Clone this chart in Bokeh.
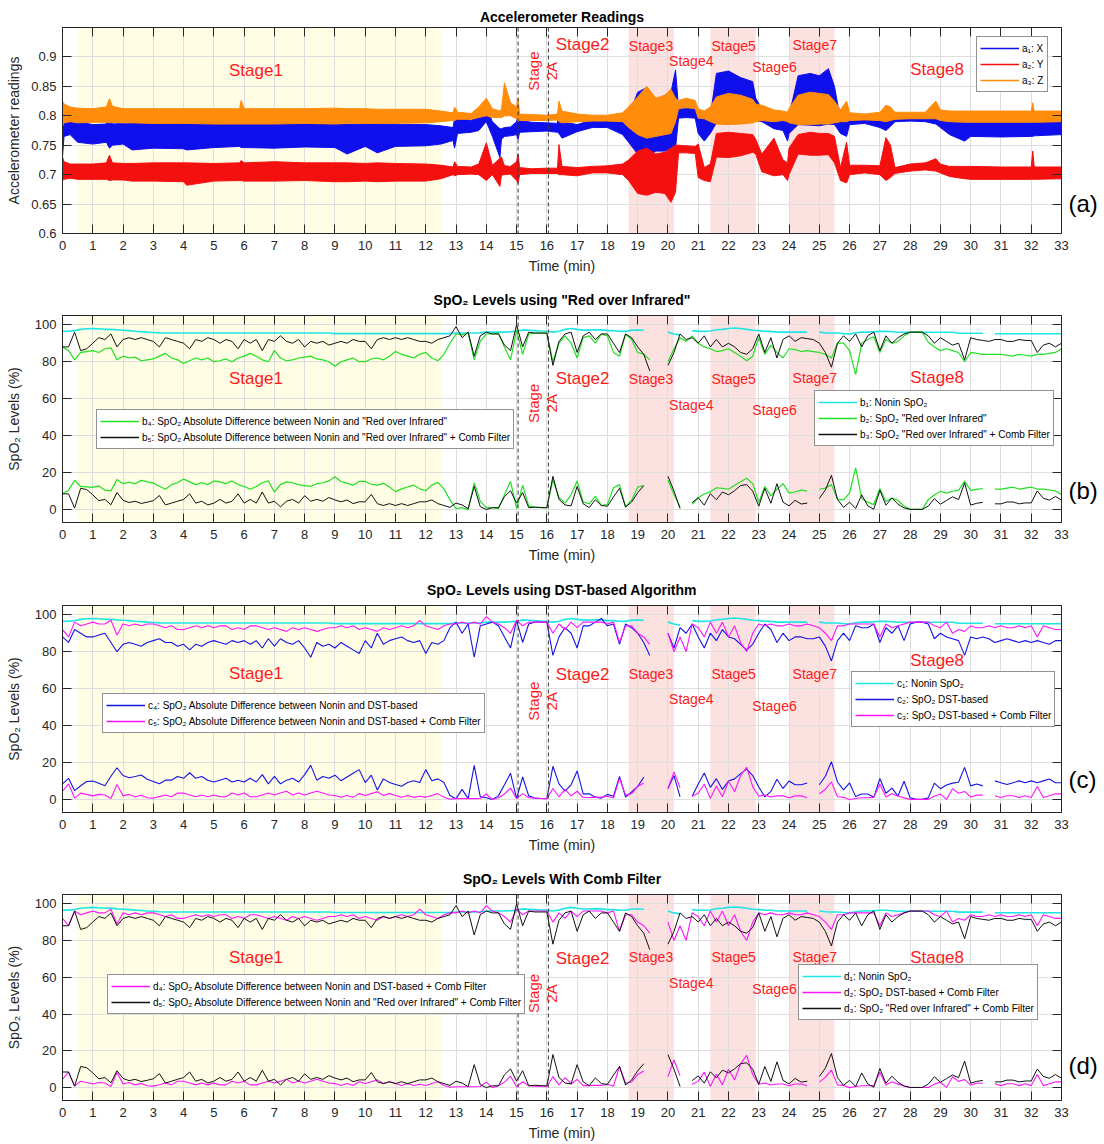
import numpy as np
from bokeh.plotting import figure
from bokeh.layouts import column
from bokeh.models import (BoxAnnotation, Span, Label, Legend, LegendItem,
                          FixedTicker, LinearAxis, Range1d)
from bokeh.embed import file_html
from bokeh.resources import INLINE

NAN = float("nan")

# ---------------- accelerometer: envelope (low / high) of each axis ----------------
acc_t = [0.0, 0.05, 0.25, 0.5, 1.0, 1.45, 1.55, 1.65, 2.0, 2.3,
         3.0, 4.0, 4.1, 5.0, 5.85, 5.9, 6.0, 7.0, 8.0, 9.0,
         9.4, 10.0, 10.4, 11.0, 12.0, 12.5, 12.9, 12.95, 13.05, 13.5,
         13.75, 14.0, 14.2, 14.45, 14.5, 14.6, 14.8, 15.0, 15.05, 15.1,
         15.5, 16.0, 16.35, 16.4, 16.5, 17.0, 17.5, 18.0, 18.5, 18.7,
         19.0, 19.3, 19.6, 19.9, 20.1, 20.25, 20.35, 20.6, 20.9, 21.0,
         21.2, 21.4, 21.6, 22.0, 22.4, 22.8, 22.9, 23.1, 23.5, 23.8,
         23.95, 24.0, 24.3, 24.7, 25.0, 25.3, 25.5, 25.7, 25.9, 26.0,
         26.5, 27.0, 27.2, 27.35, 27.5, 28.0, 28.5, 28.85, 29.0, 29.3,
         29.8, 30.0, 31.0, 32.0, 32.05, 32.1, 33.0]

acc_x_lo = [0.730, 0.765, 0.768, 0.755, 0.752, 0.755, 0.745, 0.750, 0.752, 0.742,
            0.745, 0.744, 0.742, 0.746, 0.748, 0.746, 0.746, 0.745, 0.747, 0.746,
            0.735, 0.748, 0.737, 0.748, 0.749, 0.752, 0.758, 0.745, 0.770, 0.772,
            0.775, 0.790, 0.765, 0.729, 0.760, 0.765, 0.766, 0.768, 0.760, 0.772,
            0.773, 0.774, 0.772, 0.770, 0.762, 0.773, 0.780, 0.780, 0.768, 0.755,
            0.735, 0.730, 0.740, 0.740, 0.745, 0.745, 0.796, 0.797, 0.796, 0.770,
            0.757, 0.770, 0.788, 0.786, 0.787, 0.790, 0.792, 0.790, 0.778, 0.775,
            0.757, 0.770, 0.785, 0.784, 0.783, 0.786, 0.785, 0.770, 0.765, 0.785,
            0.787, 0.780, 0.775, 0.782, 0.790, 0.791, 0.790, 0.786, 0.780, 0.768,
            0.757, 0.765, 0.764, 0.765, 0.765, 0.766, 0.768]
acc_x_hi = [0.795, 0.797, 0.795, 0.790, 0.785, 0.786, 0.800, 0.786, 0.787, 0.788,
            0.788, 0.787, 0.786, 0.787, 0.786, 0.797, 0.787, 0.787, 0.786, 0.786,
            0.785, 0.786, 0.786, 0.785, 0.785, 0.783, 0.780, 0.795, 0.797, 0.792,
            0.800, 0.815, 0.790, 0.778, 0.778, 0.780, 0.781, 0.790, 0.802, 0.792,
            0.789, 0.788, 0.787, 0.815, 0.790, 0.785, 0.793, 0.794, 0.790, 0.800,
            0.840, 0.848, 0.825, 0.835, 0.840, 0.878, 0.814, 0.812, 0.813, 0.805,
            0.795, 0.800, 0.872, 0.876, 0.865, 0.858, 0.830, 0.812, 0.800, 0.795,
            0.790, 0.800, 0.868, 0.872, 0.868, 0.880, 0.850, 0.792, 0.800, 0.797,
            0.796, 0.800, 0.808, 0.802, 0.800, 0.800, 0.799, 0.805, 0.796, 0.792,
            0.790, 0.790, 0.789, 0.790, 0.797, 0.789, 0.790]
acc_y_lo = [0.690, 0.692, 0.694, 0.692, 0.692, 0.692, 0.690, 0.691, 0.691, 0.689,
            0.689, 0.688, 0.682, 0.689, 0.690, 0.690, 0.689, 0.689, 0.690, 0.688,
            0.688, 0.689, 0.688, 0.689, 0.689, 0.693, 0.700, 0.698, 0.700, 0.701,
            0.700, 0.690, 0.700, 0.680, 0.699, 0.700, 0.701, 0.690, 0.685, 0.700,
            0.702, 0.702, 0.702, 0.700, 0.700, 0.698, 0.703, 0.703, 0.700, 0.690,
            0.668, 0.665, 0.670, 0.668, 0.653, 0.670, 0.737, 0.737, 0.736, 0.695,
            0.690, 0.688, 0.730, 0.729, 0.732, 0.738, 0.735, 0.705, 0.698, 0.700,
            0.690, 0.700, 0.735, 0.733, 0.733, 0.734, 0.720, 0.690, 0.686, 0.700,
            0.703, 0.700, 0.690, 0.695, 0.702, 0.706, 0.708, 0.706, 0.703, 0.697,
            0.693, 0.692, 0.692, 0.692, 0.692, 0.692, 0.693]
acc_y_hi = [0.730, 0.722, 0.718, 0.718, 0.718, 0.720, 0.733, 0.720, 0.719, 0.719,
            0.720, 0.720, 0.720, 0.719, 0.720, 0.724, 0.720, 0.722, 0.720, 0.720,
            0.720, 0.719, 0.720, 0.719, 0.718, 0.716, 0.713, 0.722, 0.714, 0.713,
            0.718, 0.754, 0.716, 0.728, 0.730, 0.715, 0.714, 0.722, 0.735, 0.712,
            0.710, 0.711, 0.711, 0.751, 0.714, 0.712, 0.714, 0.715, 0.718, 0.725,
            0.740, 0.745, 0.735, 0.738, 0.745, 0.750, 0.750, 0.749, 0.748, 0.752,
            0.712, 0.718, 0.770, 0.772, 0.770, 0.768, 0.760, 0.735, 0.762, 0.725,
            0.720, 0.745, 0.768, 0.772, 0.770, 0.770, 0.765, 0.712, 0.755, 0.716,
            0.716, 0.715, 0.763, 0.750, 0.712, 0.718, 0.720, 0.727, 0.718, 0.714,
            0.714, 0.714, 0.713, 0.713, 0.740, 0.713, 0.713]
acc_z_lo = [0.782, 0.788, 0.790, 0.788, 0.789, 0.789, 0.788, 0.789, 0.788, 0.788,
            0.787, 0.787, 0.787, 0.786, 0.786, 0.786, 0.786, 0.786, 0.787, 0.786,
            0.787, 0.787, 0.787, 0.787, 0.788, 0.790, 0.792, 0.792, 0.794, 0.794,
            0.797, 0.800, 0.797, 0.797, 0.797, 0.800, 0.800, 0.795, 0.790, 0.792,
            0.792, 0.792, 0.793, 0.790, 0.788, 0.790, 0.791, 0.791, 0.790, 0.780,
            0.768, 0.762, 0.765, 0.768, 0.770, 0.790, 0.812, 0.814, 0.812, 0.796,
            0.795, 0.790, 0.786, 0.785, 0.786, 0.788, 0.790, 0.792, 0.790, 0.792,
            0.790, 0.788, 0.785, 0.785, 0.786, 0.786, 0.788, 0.790, 0.790, 0.792,
            0.793, 0.792, 0.790, 0.792, 0.794, 0.795, 0.795, 0.795, 0.792, 0.790,
            0.789, 0.789, 0.789, 0.789, 0.789, 0.789, 0.790]
acc_z_hi = [0.825, 0.820, 0.815, 0.813, 0.812, 0.815, 0.829, 0.816, 0.812, 0.812,
            0.812, 0.812, 0.812, 0.812, 0.812, 0.826, 0.812, 0.812, 0.812, 0.813,
            0.812, 0.812, 0.811, 0.811, 0.811, 0.808, 0.805, 0.815, 0.806, 0.804,
            0.815, 0.830, 0.812, 0.808, 0.812, 0.856, 0.822, 0.815, 0.830, 0.803,
            0.802, 0.801, 0.803, 0.825, 0.808, 0.803, 0.801, 0.801, 0.805, 0.815,
            0.832, 0.850, 0.830, 0.835, 0.845, 0.830, 0.826, 0.830, 0.826, 0.812,
            0.808, 0.815, 0.832, 0.838, 0.835, 0.828, 0.820, 0.818, 0.810, 0.808,
            0.806, 0.812, 0.835, 0.840, 0.838, 0.836, 0.825, 0.810, 0.825, 0.805,
            0.803, 0.806, 0.818, 0.815, 0.806, 0.806, 0.806, 0.825, 0.810, 0.808,
            0.808, 0.808, 0.808, 0.808, 0.822, 0.808, 0.808]

# ---------------- SpO2 estimates, one value every 0.2 min (0 ... 33 min) ----------------
spo2_t = [round(0.2 * i, 1) for i in range(166)]

nonin = [96.5, 96.5, 96.8, 97.5, 97.8, 98.0, 97.8, 97.5, 97.6, 97.2,
         97.0, 96.8, 96.5, 96.3, 96.0, 95.8, 95.6, 95.5, 95.5, 95.5,
         95.5, 95.5, 95.5, 95.5, 95.5, 95.5, 95.5, 95.5, 95.5, 95.5,
         95.5, 95.5, 95.5, 95.5, 95.5, 95.5, 95.5, 95.5, 95.5, 95.5,
         95.5, 95.5, 95.5, 95.5, 95.5, 95.2, 95.2, 95.2, 95.2, 95.2,
         95.2, 95.2, 95.2, 95.2, 95.2, 95.2, 95.2, 95.2, 95.2, 95.2,
         95.2, 95.2, 95.2, 95.2, 95.2, 95.5, 95.5, 95.5, 95.5, 95.6,
         96.0, 96.0, 96.0, 96.0, 96.2, 96.5, 97.2, 97.0, 96.8, 96.6,
         96.5, 96.0, 96.5, 97.5, 98.0, 97.5, 97.1, 97.1, 97.3, 97.2,
         96.8, 96.8, 96.5, 96.4, 97.1, 97.1, 97.0, NAN, NAN, NAN,
         96.0, 95.0, 94.4, NAN, 96.8, 96.4, 96.4, 96.6, 97.3, 97.5,
         98.0, 98.2, 98.0, 97.5, 97.0, 96.8, 96.5, 96.4, 96.0, 96.0,
         96.0, 96.0, 96.0, 96.0, NAN, 96.0, 95.6, 95.5, 95.5, 95.2,
         95.0, 95.6, 96.0, 96.0, 96.2, 96.4, 96.4, 96.2, 95.9, 95.9,
         95.9, 95.9, 95.9, 95.9, 95.9, 95.9, 95.9, 95.9, 95.4, 95.4,
         95.4, 95.4, 95.4, NAN, 95.1, 95.1, 95.1, 95.1, 95.1, 95.1,
         95.1, 95.1, 95.1, 95.1, 95.1, 95.1]

roi = [88, 86, 81, 85, 85.5, 86, 85, 87, 87.5, 81,
       83, 82, 82.5, 80.5, 81, 81.5, 83, 84.5, 82, 81,
       79, 80.5, 82, 81, 82, 80, 80.5, 81.5, 80, 82,
       83, 84.5, 83, 81, 80, 86, 82, 80.5, 81, 82,
       82.5, 83, 81.5, 81, 80, 77.5, 80, 81, 82, 80,
       80, 81.5, 82, 81, 83, 85.5, 84, 83, 82, 84,
       85, 82, 80.5, 84, 90, 95, 94.5, 95.5, 81, 91,
       95, 95, 95.5, 88, 81, 97, 84, 95, 95.5, 95.5,
       95.5, 80, 90, 94, 90, 82, 93, 94, 90, 95,
       94, 85, 83, 95, 92, 85, 84, 81, NAN, NAN,
       80, 87, 93, 91, 94, 90, 88, 87, 85.5, 86,
       87, 85, 83, 80.5, 83, 93, 84, 89, 85, 82,
       87, 86.5, 85.5, 86, 85.5, 85, 84, 82, 90, 90,
       86, 73, 90, 92, 93.5, 85, 92, 90, 91, 94,
       96, 96, 96, 90.5, 88, 86, 87, 86, 85, 80,
       85, 84.5, 84, 84, 84, 84, 83.5, 83, 84, 83.5,
       83, 84, 84, 84.5, 85, 87]

roi_comb = [88, 88, 96, 86, 87, 90, 93, 92, 95, 88,
            92, 93, 92, 93, 92, 91, 88, 93, 92, 91,
            90, 87, 92, 91, 93, 92, 90, 92, 91, 87,
            92, 90, 92, 86, 92, 91, 94, 91, 90, 92,
            88, 91, 90, 91, 89, 90, 91, 90, 92, 91,
            91, 87, 92, 93, 92, 93, 92, 93, 92, 91,
            91, 90, 92, 93, 94, 99, 93, 96, 83, 94,
            96, 95, 95, 89, 86, 100, 88, 96, 95.5, 95.5,
            95.5, 78, 91, 95, 96, 85, 94, 96, 92, 95,
            95, 90, 85, 95, 93, 88, 84, 75, NAN, NAN,
            78, 85, 95, 92, 93, 90, 94, 88, 92, 88,
            90, 88, 85, 84, 87, 95, 85, 93, 82, 92,
            94, 91, 93, 92.5, 92, 90, 85, 77, 90, 94,
            91, 95, 88, 94, 96, 86, 94, 90, 93, 95,
            96, 96, 96, 94, 90, 93, 91, 89, 90, 81,
            93, 92, 91.5, 91, 92, 92, 91, 91, 92, 91.5,
            91.5, 85, 89, 90, 88, 90]

dst = [88, 85, 92, 90, 88, 88, 89, 90, 85, 80,
       84, 85, 84, 83, 85, 86, 87, 85, 85, 83,
       84, 81, 84, 83, 85, 86, 85, 84, 86, 85,
       86, 84, 86, 82, 87, 83, 87, 85, 84, 86,
       82, 77, 85, 83, 84, 82, 85, 83, 81, 79,
       86, 82, 90, 84, 86, 87, 88, 86, 85, 86,
       79, 85, 84, 86, 93, 96, 90, 95, 77, 94,
       95, 96, 94, 88, 82, 97, 85, 95, 96, 96,
       96, 78, 88, 93, 90, 82, 94, 94, 96, 98,
       94, 95, 84, 95, 93, 90, 85, 78, NAN, NAN,
       90, 82, 93, 90, 95, 88, 82, 90, 86, 92,
       88, 87, 84, 81, 84, 90, 95, 92, 85, 90,
       86, 88, 88, 87, 87, 88, 83, 75, 86, 90,
       86, 94, 93, 93, 95, 85, 93, 90, 94, 86,
       95, 96, 96, 95, 87, 90, 88, 87, 86, 78,
       88, 87, 88, 87, 85, 86, 87, 86, 85, 86,
       85, 86, 85, 84, 86, 86]

dst_comb = [92, 88, 96, 94, 95, 96, 95, 95, 97, 89,
            95, 94, 95, 94, 95, 95, 94, 93, 94, 92,
            92, 93, 94, 93, 94, 93, 94, 94, 92, 93,
            92, 94, 94, 93, 92, 93, 92, 91, 93, 92,
            93, 92, 91, 92, 93, 93, 94, 93, 94, 92,
            93, 92, 91, 93, 92, 93, 94, 93, 94, 97,
            94, 93, 92, 94, 95, 95, 96, 95, 96, 95,
            99, 96, 95, 93, 90, 97, 94, 96, 96, 96,
            96, 90, 95, 92, 96, 93, 96, 96, 96, 96,
            95, 96, 85, 94, 94, 90, 88, 84, NAN, NAN,
            90, 80, 88, 80, 95, 93, 88, 96, 90, 96,
            88, 94, 85, 80, 90, 95, 94, 95, 94, 94,
            95, 94, 94, 95, 94, 93, 90, 86, 94, 94,
            95, 95, 95, 95, 95, 88, 95, 93, 94, 95,
            96, 96, 96, 96, 94, 93, 96, 90, 92, 91,
            94, 93, 93, 94, 93, 94, 93, 93, 94, 93,
            94, 88, 94, 93, 92, 92]

# protocol stages
stage1_span = (0.5, 12.5)
pink_spans = [(18.7, 20.2), (21.4, 22.9), (24.0, 25.5)]
stage_boundaries = [15.05, 16.05]
stage_names = ["Stage1", "Stage2", "Stage3", "Stage4", "Stage5", "Stage6", "Stage7", "Stage8"]

time_ticks = list(range(0, 34))
acc_ticks = [0.6, 0.65, 0.7, 0.75, 0.8, 0.85, 0.9]
acc_tick_labels = ["0.6", "0.65", "0.7", "0.75", "0.8", "0.85", "0.9"]
spo2_ticks = [0, 20, 40, 60, 80, 100]

# ---------------- styling ----------------
FONT = "Liberation Sans"
AX = "#262626"
GRID = "#DEDEDE"
YELLOW = "#FFFDE3"
PINK = "#FCE1E1"
STAGE_RED = "#FF1A1A"
C_BLUE_ACC, C_RED_ACC, C_ORANGE = "#0F0FEB", "#F51010", "#FF8C0A"
C_CYAN, C_GREEN, C_BLACK = "#1FE5E5", "#22E022", "#111111"
C_BLUE, C_MAGENTA = "#1414E6", "#FF14FF"

stage_x = [6.39, 17.18, 19.44, 20.77, 22.17, 23.52, 24.85, 28.89]
stage_size = ["17px", "17px", "14px", "14px", "14px", "14px", "14px", "17px"]


def text_axis(tick, text, size, bold, standoff):
    """An axis that carries a single piece of text at one tick position and nothing else."""
    return LinearAxis(ticker=FixedTicker(ticks=[tick]), major_label_overrides={tick: text},
                      major_tick_line_color=None, major_tick_in=0, major_tick_out=0,
                      minor_tick_line_color=None, axis_line_color=None,
                      major_label_standoff=standoff, major_label_text_font=FONT,
                      major_label_text_font_size=size,
                      major_label_text_font_style="bold" if bold else "normal",
                      major_label_text_color="black")


def make_panel(height, b_top, b_bottom, yr, yticks, ylabels, ylabel, ylab_standoff,
               title, title_standoff, tag, tag_y):
    p = figure(width=1104, height=height, x_range=Range1d(0, 33), y_range=Range1d(*yr),
               output_backend="svg", toolbar_location=None, title=None,
               min_border_left=62, min_border_right=43,
               min_border_top=b_top, min_border_bottom=b_bottom)
    p.outline_line_color = AX
    p.outline_line_width = 1

    p.add_layout(BoxAnnotation(left=stage1_span[0], right=stage1_span[1],
                               fill_color=YELLOW, fill_alpha=1.0, line_color=None,
                               level="image"))
    for a, b in pink_spans:
        p.add_layout(BoxAnnotation(left=a, right=b, fill_color=PINK, fill_alpha=1.0,
                                   line_color=None, level="image"))

    xa, ya = p.xaxis[0], p.yaxis[0]
    for ax, ticks in ((xa, time_ticks), (ya, yticks)):
        ax.ticker = FixedTicker(ticks=ticks)
        ax.major_tick_in = 9
        ax.major_tick_out = 0
        ax.minor_tick_line_color = None
        ax.axis_line_color = AX
        ax.major_tick_line_color = AX
        ax.major_label_text_color = AX
        ax.major_label_text_font = FONT
        ax.major_label_text_font_size = "13px"
        ax.axis_label_text_font = FONT
        ax.axis_label_text_font_style = "normal"
        ax.axis_label_text_color = AX
        ax.axis_label_text_font_size = "14px"
    xa.major_label_standoff = 7
    ya.major_label_standoff = 6
    xa.axis_label = "Time (min)"
    xa.axis_label_standoff = 5
    ya.axis_label = ylabel
    ya.axis_label_standoff = ylab_standoff
    ya.major_label_overrides = {t: s for t, s in zip(yticks, ylabels)}

    # boxed axes: inward ticks on the top and right edges as well
    for ticks, side in ((time_ticks, "above"), (yticks, "right")):
        extra = LinearAxis(ticker=FixedTicker(ticks=ticks), major_tick_in=9, major_tick_out=0,
                           minor_tick_line_color=None, major_label_text_font_size="1px",
                           major_label_text_alpha=0, major_label_standoff=0,
                           axis_line_color=AX, major_tick_line_color=AX)
        p.add_layout(extra, side)

    # panel title above the plot area, panel letter to its right
    p.add_layout(text_axis(16.5, title, "14px", True, title_standoff), "above")
    p.add_layout(text_axis(tag_y, tag, "24px", False, 7), "right")

    p.xgrid.ticker = FixedTicker(ticks=time_ticks)
    p.ygrid.ticker = FixedTicker(ticks=yticks)
    p.grid.grid_line_color = GRID
    p.grid.grid_line_width = 1
    return p


def decorate(p, stage_y, split_y):
    for loc in stage_boundaries:
        p.add_layout(Span(location=loc, dimension="height", line_color="#3A3A3A",
                          line_dash="4 3", line_width=1))
    for name, x, y, size in zip(stage_names, stage_x, stage_y, stage_size):
        p.add_layout(Label(x=x, y=y, text=name, text_color=STAGE_RED, text_font=FONT,
                           text_font_size=size, text_align="center", text_baseline="middle"))
    for txt, x in (("Stage", 15.56), ("2A", 16.15)):
        p.add_layout(Label(x=x, y=split_y, text=txt, angle=np.pi / 2, text_color=STAGE_RED,
                           text_font=FONT, text_font_size="15px", text_align="center",
                           text_baseline="middle"))


def add_legend(p, entries, loc):
    # each key is a one-point line in the series colour (the point itself is empty)
    items = []
    for lbl, col in entries:
        key = p.line(x=[NAN], y=[NAN], line_color=col, line_width=1.5)
        items.append(LegendItem(label=lbl, renderers=[key]))
    lg = Legend(items=items, location=loc, orientation="vertical", margin=0, padding=3,
                spacing=0, label_height=16, glyph_height=16, glyph_width=39, label_standoff=3,
                label_text_font=FONT, label_text_font_size="10px", label_text_color="black",
                border_line_color=AX, border_line_width=1, background_fill_color="white",
                background_fill_alpha=1.0)
    p.add_layout(lg)


# ---------------- (a) accelerometer ----------------
pa = make_panel(288, 27, 55, (0.6, 0.95), acc_ticks, acc_tick_labels,
                "Accelerometer readings", 6, "Accelerometer Readings", 3, "(a)", 0.651)
for lo, hi, col in ((acc_x_lo, acc_x_hi, C_BLUE_ACC),
                    (acc_y_lo, acc_y_hi, C_RED_ACC),
                    (acc_z_lo, acc_z_hi, C_ORANGE)):
    pa.varea(x=acc_t, y1=lo, y2=hi, fill_color=col, fill_alpha=1.0)
    pa.line(acc_t, lo, line_color=col, line_width=1)
    pa.line(acc_t, hi, line_color=col, line_width=1)
decorate(pa, [0.877, 0.921, 0.919, 0.893, 0.919, 0.883, 0.920, 0.878], 0.876)
add_legend(pa, [("a\u2081: X", C_BLUE_ACC), ("a\u2082: Y", C_RED_ACC),
                ("a\u2083: Z", C_ORANGE)], (914, 141))

t = np.array(spo2_t)
n = np.array(nonin)
diff_roi = np.abs(n - np.array(roi))
diff_roi_comb = np.abs(n - np.array(roi_comb))
diff_dst = np.abs(n - np.array(dst))
diff_dst_comb = np.abs(n - np.array(dst_comb))

SPO2_LABEL = "SpO\u2082 Levels (%)"
spo2_labels = [str(v) for v in spo2_ticks]

# ---------------- (b) red over infrared ----------------
pb = make_panel(290, 26, 56, (-7, 105), spo2_ticks, spo2_labels, SPO2_LABEL, 10,
                "SpO\u2082 Levels using \"Red over Infrared\"", 8, "(b)", 10.4)
pb.line(t, n, line_color=C_CYAN, line_width=1.6)
pb.line(t, roi, line_color=C_GREEN, line_width=1.2)
pb.line(t, roi_comb, line_color=C_BLACK, line_width=1.0)
pb.line(t, diff_roi, line_color=C_GREEN, line_width=1.2)
pb.line(t, diff_roi_comb, line_color=C_BLACK, line_width=1.0)
decorate(pb, [70.9, 70.9, 70.9, 56.8, 70.9, 53.6, 71.2, 71.2], 57.5)
add_legend(pb, [("b\u2084: SpO\u2082 Absolute Difference between Nonin and \"Red over Infrared\"", C_GREEN),
                ("b\u2085: SpO\u2082 Absolute Difference between Nonin and \"Red over Infrared\" + Comb Filter", C_BLACK)],
           (34, 73))
add_legend(pb, [("b\u2081: Nonin SpO\u2082", C_CYAN),
                ("b\u2082: SpO\u2082 \"Red over Infrared\"", C_GREEN),
                ("b\u2083: SpO\u2082 \"Red over Infrared\" + Comb Filter", C_BLACK)],
           (752, 76))

# ---------------- (c) DST-based ----------------
pc = make_panel(289, 26, 55, (-7, 105), spo2_ticks, spo2_labels, SPO2_LABEL, 10,
                "SpO\u2082 Levels using DST-based Algorithm", 8, "(c)", 11.0)
pc.line(t, n, line_color=C_CYAN, line_width=1.6)
pc.line(t, dst, line_color=C_BLUE, line_width=1.1)
pc.line(t, dst_comb, line_color=C_MAGENTA, line_width=1.1)
pc.line(t, diff_dst, line_color=C_BLUE, line_width=1.1)
pc.line(t, diff_dst_comb, line_color=C_MAGENTA, line_width=1.1)
decorate(pc, [68.2, 67.9, 67.9, 54.2, 67.9, 50.7, 68.2, 75.5], 53.2)
add_legend(pc, [("c\u2084: SpO\u2082 Absolute Difference between Nonin and DST-based", C_BLUE),
                ("c\u2085: SpO\u2082 Absolute Difference between Nonin and DST-based + Comb Filter", C_MAGENTA)],
           (40, 79))
add_legend(pc, [("c\u2081: Nonin SpO\u2082", C_CYAN),
                ("c\u2082: SpO\u2082 DST-based", C_BLUE),
                ("c\u2083: SpO\u2082 DST-based + Comb Filter", C_MAGENTA)],
           (789, 85))

# ---------------- (d) comb filter comparison ----------------
pd_ = make_panel(277, 25, 44, (-7, 105), spo2_ticks, spo2_labels, SPO2_LABEL, 10,
                 "SpO\u2082 Levels With Comb Filter", 8, "(d)", 12.3)
pd_.line(t, n, line_color=C_CYAN, line_width=1.6)
pd_.line(t, dst_comb, line_color=C_MAGENTA, line_width=1.1)
pd_.line(t, roi_comb, line_color=C_BLACK, line_width=1.0)
pd_.line(t, diff_dst_comb, line_color=C_MAGENTA, line_width=1.1)
pd_.line(t, diff_roi_comb, line_color=C_BLACK, line_width=1.0)
decorate(pd_, [70.8, 70.4, 70.8, 56.8, 70.8, 53.8, 71.1, 71.0], 51.2)
add_legend(pd_, [("d\u2084: SpO\u2082 Absolute Difference between Nonin and DST-based + Comb Filter", C_MAGENTA),
                 ("d\u2085: SpO\u2082 Absolute Difference between Nonin and \"Red over Infrared\" + Comb Filter", C_BLACK)],
           (45, 86))
add_legend(pd_, [("d\u2081: Nonin SpO\u2082", C_CYAN),
                 ("d\u2082: SpO\u2082 DST-based + Comb Filter", C_MAGENTA),
                 ("d\u2083: SpO\u2082 \"Red over Infrared\" + Comb Filter", C_BLACK)],
           (736, 80))

layout = column(pa, pb, pc, pd_, spacing=0)
open("out.html", "w").write(file_html(layout, INLINE))
